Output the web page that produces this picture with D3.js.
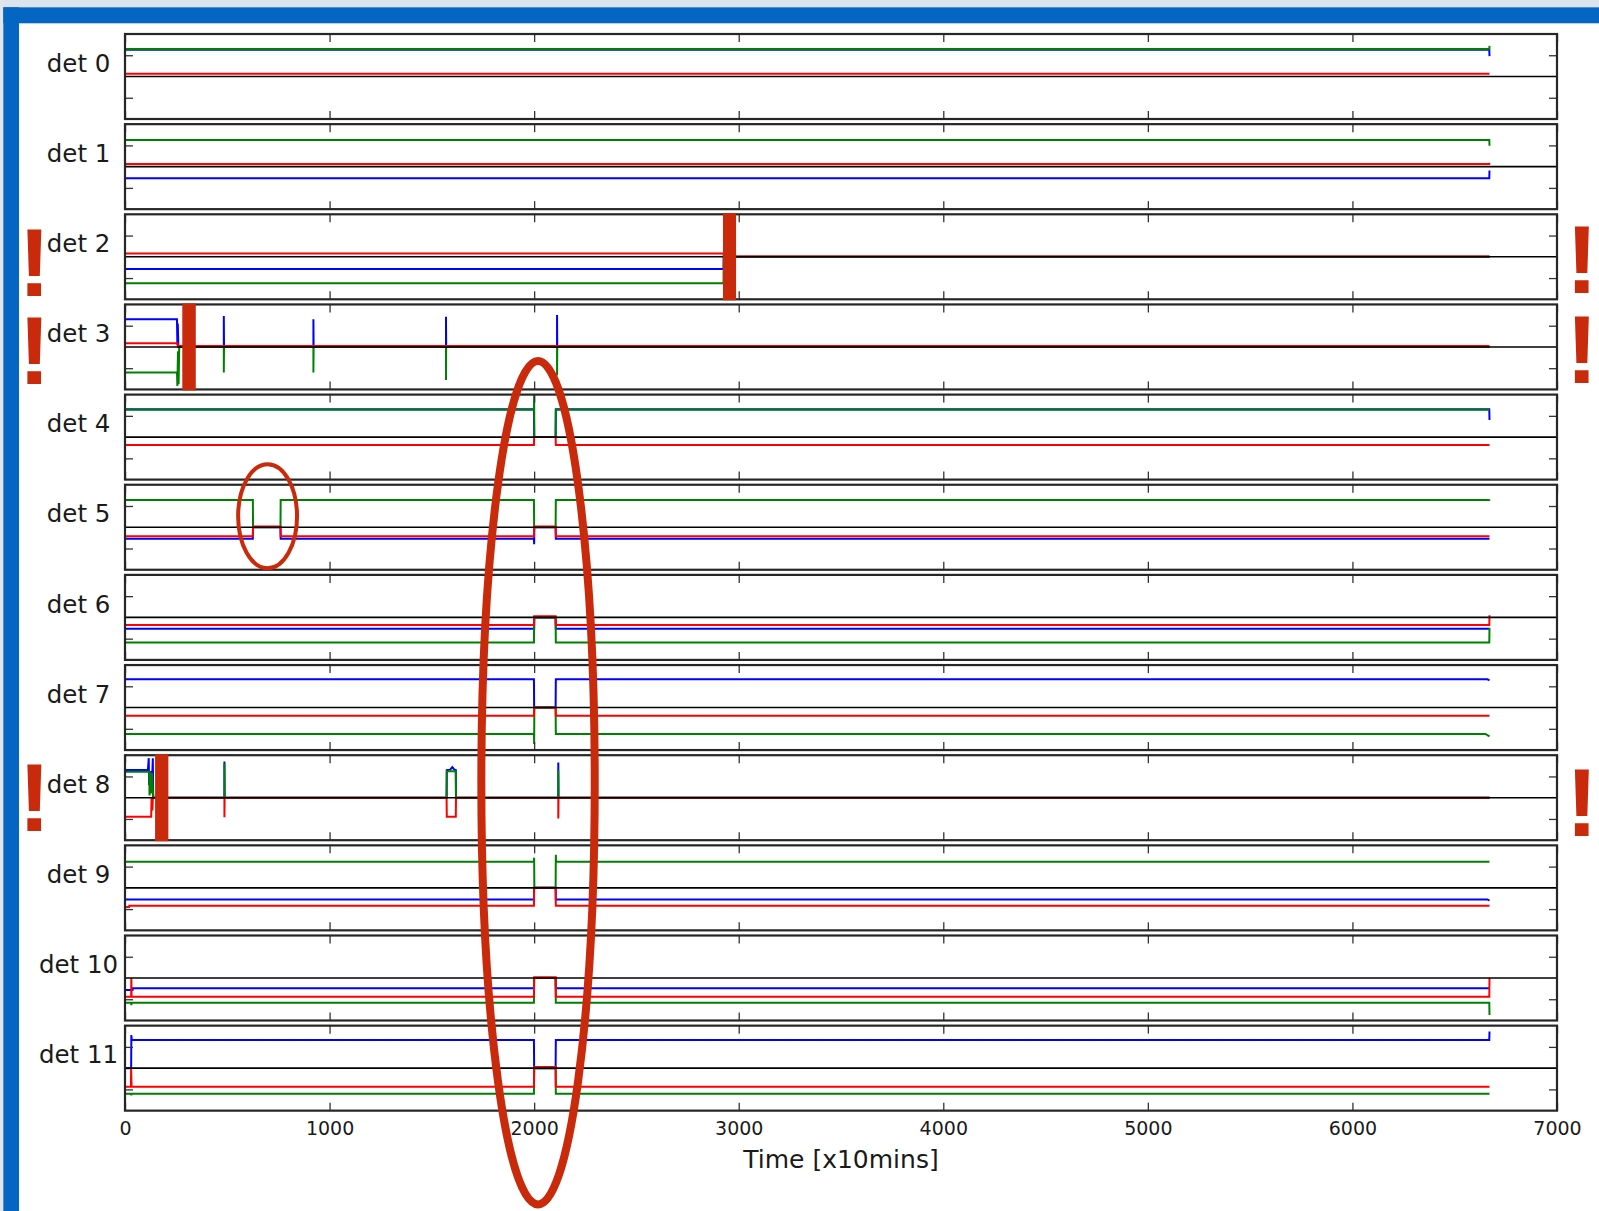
<!DOCTYPE html>
<html>
<head>
<meta charset="utf-8">
<script src="https://cdn.jsdelivr.net/npm/d3@7/dist/d3.min.js"></script>
<style>
  html, body { margin: 0; padding: 0; background: #ffffff; overflow: hidden; }
  svg { display: block; }
</style>
</head>
<body>
<svg id="chart" width="1599" height="1211"></svg>
<script>
// ---- data -------------------------------------------------------------
const detectors = ["det 0", "det 1", "det 2", "det 3", "det 4", "det 5",
                   "det 6", "det 7", "det 8", "det 9", "det 10", "det 11"];
const xTickValues = [0, 1000, 2000, 3000, 4000, 5000, 6000, 7000];
const yTickValues = [-0.5, 0.5];
const xLabel = "Time [x10mins]";

// normalised channel signals per detector, as [time, value] breakpoints
const blueSeries = [
  [[0,0.63],[6669,0.63],[6670,0.48]],
  [[0,-0.27],[6669,-0.27],[6670,-0.09]],
  [[0,-0.285],[2926,-0.285],[2927,0],[6670,0]],
  [[0,0.65],[254,0.65],[256,0.05],[258,0.55],[261,0],[483,0],[483,0.73],[484,0],[921,0],[921,0.65],[922,0],
   [1569,0],[1569,0.71],[1570,0],[2112,0],[2112,0.75],[2113,0],[6670,0]],
  [[0,0.655],[1999,0.655],[2000,0],[2105,0],[2106,0.655],[6669,0.655],[6670,0.4]],
  [[0,-0.27],[625,-0.27],[626,0],[760,0],[761,-0.27],[1999,-0.27],[2000,-0.4],[2001,0],[2105,0],[2106,-0.27],[6670,-0.27]],
  [[0,-0.265],[1999,-0.265],[2000,-0.3],[2001,0],[2105,0],[2106,-0.265],[6670,-0.265]],
  [[0,0.664],[1999,0.664],[2000,0],[2105,0],[2106,0.664],[6660,0.664],[6670,0.64]],
  [[0,0.65],[112,0.65],[116,0.93],[118,0.3],[122,0.6],[134,0.62],[136,0.93],[138,0],[486,0],[486,0.85],[487,0],
   [1572,0],[1573,0.65],[1590,0.66],[1600,0.72],[1610,0.66],[1617,0.65],[1618,0],[2118,0],[2118,0.83],[2119,0],[6670,0]],
  [[0,-0.274],[1999,-0.274],[2000,0],[2105,0],[2106,-0.274],[6660,-0.274],[6670,-0.3]],
  [[0,-0.28],[37,-0.28],[38,-0.242],[1999,-0.242],[2000,0],[2105,0],[2106,-0.242],[6670,-0.242]],
  [[0,0],[30,0],[31,0.78],[33,0.66],[1999,0.66],[2000,0],[2105,0],[2106,0.66],[6669,0.66],[6670,0.86]]
];
const greenSeries = [
  [[0,0.645],[6669,0.645],[6670,0.72]],
  [[0,0.63],[6669,0.63],[6670,0.49]],
  [[0,-0.62],[2926,-0.62],[2927,0],[6670,0]],
  [[0,-0.6],[254,-0.6],[256,-0.92],[259,-0.1],[262,-0.88],[265,0],[483,0],[483,-0.6],[484,0],[921,0],[921,-0.6],[922,0],
   [1569,0],[1569,-0.78],[1570,0],[2112,0],[2112,-0.67],[2113,0],[6670,0]],
  [[0,0.645],[1999,0.645],[2000,0.99],[2001,0],[2105,0],[2106,0.645],[6670,0.645]],
  [[0,0.64],[625,0.64],[626,0],[760,0],[761,0.64],[1999,0.64],[2000,0],[2105,0],[2106,0.64],[6669,0.64],[6670,0.66]],
  [[0,-0.59],[1999,-0.59],[2000,0],[2105,0],[2106,-0.59],[6669,-0.59],[6670,-0.25]],
  [[0,-0.62],[1999,-0.62],[2000,-0.86],[2001,0],[2105,0],[2106,-0.62],[6650,-0.62],[6670,-0.68]],
  [[0,0.61],[118,0.61],[120,0.05],[124,0.6],[128,0.1],[132,0.58],[136,0.2],[138,0],[486,0],[486,0.8],[487,0],
   [1572,0],[1573,0.62],[1617,0.62],[1618,0],[2118,0],[2118,0.65],[2119,0],[6670,0]],
  [[0,0.615],[1999,0.615],[2000,0.71],[2001,0],[2105,0],[2106,0.78],[2107,0.615],[6670,0.615]],
  [[0,-0.58],[30,-0.58],[31,-0.64],[32,-0.58],[1999,-0.58],[2000,0],[2105,0],[2106,-0.58],[6669,-0.58],[6670,-0.87]],
  [[0,-0.6],[30,-0.6],[31,-0.64],[32,-0.6],[1999,-0.6],[2000,0],[2105,0],[2106,-0.6],[6670,-0.6]]
];
const redSeries = [
  [[0,0.065],[6670,0.065]],
  [[0,0.065],[6669,0.065],[6670,0.09]],
  [[0,0.075],[2926,0.075],[2927,0.01],[6670,0.01]],
  [[0,0.087],[256,0.087],[258,0.02],[6670,0.02]],
  [[0,-0.186],[1999,-0.186],[2000,0],[2105,0],[2106,-0.186],[6670,-0.186]],
  [[0,-0.21],[625,-0.21],[626,0.02],[760,0.02],[761,-0.21],[1999,-0.21],[2000,0.02],[2105,0.02],[2106,-0.21],[6670,-0.21]],
  [[0,-0.18],[1999,-0.18],[2000,0.03],[2105,0.03],[2106,-0.18],[6669,-0.18],[6670,0.05]],
  [[0,-0.19],[1999,-0.19],[2000,0],[2105,0],[2106,-0.19],[6670,-0.19]],
  [[0,-0.45],[128,-0.45],[130,0],[134,-0.3],[136,0],[486,0],[486,-0.46],[487,0],[1572,0],[1573,-0.45],[1617,-0.45],
   [1618,0],[2118,0],[2118,-0.49],[2119,0],[6670,0]],
  [[0,-0.45],[20,-0.45],[21,-0.42],[1999,-0.42],[2000,0],[2105,0],[2106,-0.42],[6670,-0.42]],
  [[0,-0.44],[30,-0.44],[31,0],[32,-0.46],[33,-0.44],[1999,-0.44],[2000,0.02],[2105,0.02],[2106,-0.44],[6669,-0.44],[6670,0]],
  [[0,-0.44],[29,-0.44],[30,0],[32,-0.44],[1999,-0.44],[2000,0.03],[2105,0.03],[2106,-0.44],[6670,-0.44]]
];

// detectors flagged as lost, with the time window of the cut marker
const flaggedDetectors = [2, 3, 8];
const cutStart = [2923, 280, 147];
const cutEnd   = [2987, 346, 212];

// ---- layout -----------------------------------------------------------
const svg = d3.select("#chart");
const W = 1599, H = 1211;
const plotLeft = 125, plotRight = 1557;
const panelTop0 = 34, panelPitch = 90.15, panelHeight = 85;
const markRed = "#c92a0b";
const frameColor = "#262626";

const x = d3.scaleLinear().domain([0, 7000]).range([plotLeft, plotRight]);
const panelY = i => {
  const top = panelTop0 + i * panelPitch;
  return d3.scaleLinear().domain([-1, 1]).range([top + panelHeight, top]);
};

// slide frame
svg.append("rect").attr("x", 0).attr("y", 0).attr("width", W).attr("height", H).attr("fill", "#ffffff");
svg.append("rect").attr("x", 0).attr("y", 0).attr("width", W).attr("height", 7.3).attr("fill", "#dae3ee");
svg.append("rect").attr("x", 0).attr("y", 0).attr("width", 3.3).attr("height", H).attr("fill", "#e2e6eb");
svg.append("rect").attr("x", 3.3).attr("y", 7.3).attr("width", W).attr("height", 16).attr("fill", "#0565c2");
svg.append("rect").attr("x", 3.3).attr("y", 7.3).attr("width", 15.7).attr("height", H).attr("fill", "#0565c2");

const colours = { blue: "#0000ff", green: "#008000", red: "#ff0000" };

detectors.forEach((name, i) => {
  const y = panelY(i);
  const top = y(1), bottom = y(-1);
  const g = svg.append("g").attr("class", "panel");

  // plot clip so signal lines stay inside the frame
  g.append("clipPath").attr("id", "clip" + i)
    .append("rect").attr("x", plotLeft).attr("y", top).attr("width", plotRight - plotLeft).attr("height", bottom - top);

  const line = d3.line().x(d => x(d[0])).y(d => y(d[1]));
  const lines = g.append("g").attr("clip-path", `url(#clip${i})`);

  [["blue", blueSeries], ["green", greenSeries], ["red", redSeries]].forEach(([key, series]) => {
    lines.append("path")
      .datum(series[i])
      .attr("d", line)
      .attr("fill", "none")
      .attr("stroke", colours[key])
      .attr("stroke-width", 2)
      .attr("stroke-linejoin", "miter");
  });

  // zero reference line
  lines.append("line")
    .attr("x1", x(0)).attr("x2", x(7000))
    .attr("y1", y(0)).attr("y2", y(0))
    .attr("stroke", "#000").attr("stroke-width", 1.6);

  // ticks pointing inwards on all four sides
  const isLast = i === detectors.length - 1;
  const tickStyle = sel => {
    sel.select(".domain").remove();
    sel.selectAll(".tick line").attr("stroke", "#333").attr("stroke-width", 1.3);
  };
  g.append("g").attr("transform", `translate(0,${top})`)
    .call(d3.axisTop(x).tickValues(xTickValues).tickSize(-8).tickFormat(""))
    .call(tickStyle);
  const bottomAxis = g.append("g").attr("transform", `translate(0,${bottom})`)
    .call(d3.axisBottom(x).tickValues(xTickValues).tickSize(-8).tickPadding(11)
      .tickFormat(isLast ? d3.format("d") : ""))
    .call(tickStyle);
  bottomAxis.selectAll("text")
    .attr("font-family", "DejaVu Sans, sans-serif")
    .attr("font-size", 19)
    .attr("fill", "#1a1a1a");
  g.append("g").attr("transform", `translate(${plotLeft},0)`)
    .call(d3.axisLeft(y).tickValues(yTickValues).tickSize(-8).tickFormat(""))
    .call(tickStyle);
  g.append("g").attr("transform", `translate(${plotRight},0)`)
    .call(d3.axisRight(y).tickValues(yTickValues).tickSize(-8).tickFormat(""))
    .call(tickStyle);

  // panel frame
  g.append("rect")
    .attr("x", plotLeft).attr("y", top)
    .attr("width", plotRight - plotLeft).attr("height", bottom - top)
    .attr("fill", "none").attr("stroke", frameColor).attr("stroke-width", 2.2);

  // detector label
  g.append("text")
    .attr("x", 78.6).attr("y", top + 37.7)
    .attr("text-anchor", "middle")
    .attr("font-family", "DejaVu Sans, sans-serif")
    .attr("font-size", 24.5)
    .attr("fill", "#1a1a1a")
    .text(name);
});

// x-axis title
svg.append("text")
  .attr("x", (plotLeft + plotRight) / 2).attr("y", 1168)
  .attr("text-anchor", "middle")
  .attr("font-family", "DejaVu Sans, sans-serif")
  .attr("font-size", 25)
  .attr("fill", "#1a1a1a")
  .text(xLabel);

// ---- annotations -------------------------------------------------------
const notes = svg.append("g").attr("class", "annotations");

// cut markers where a detector drops out
flaggedDetectors.forEach((d, k) => {
  const y = panelY(d);
  notes.append("rect")
    .attr("x", x(cutStart[k])).attr("width", x(cutEnd[k]) - x(cutStart[k]))
    .attr("y", y(1) - 1).attr("height", y(-1) - y(1) + 2)
    .attr("fill", markRed);
});

// exclamation marks beside the flagged detectors: one column of marks per side
const bangBaseline = { 2: [82, 79], 3: [79.5, 78.5], 8: [76, 81] };
[[34.5, 0], [1582, 1]].forEach(([cx, side]) => {
  const col = notes.append("text")
    .attr("text-anchor", "middle")
    .attr("font-family", "Liberation Sans, Arial, sans-serif")
    .attr("font-weight", "bold")
    .attr("font-size", 97)
    .attr("fill", markRed);
  flaggedDetectors.forEach(d => {
    col.append("tspan")
      .attr("x", cx)
      .attr("y", panelY(d)(1) + bangBaseline[d][side])
      .text("!");
  });
});

// ellipse around the short gap of det 5
{
  const y5 = panelY(5);
  notes.append("ellipse")
    .attr("cx", x(697)).attr("cy", y5(0.26))
    .attr("rx", x(697 + 144) - x(697)).attr("ry", 52)
    .attr("fill", "none").attr("stroke", markRed).attr("stroke-width", 4);
}
// ellipse around the common outage near t = 2000
notes.append("ellipse")
  .attr("cx", x(2019)).attr("cy", 782.7)
  .attr("rx", 56.7).attr("ry", 421.7)
  .attr("fill", "none").attr("stroke", markRed).attr("stroke-width", 8);
</script>
</body>
</html>
